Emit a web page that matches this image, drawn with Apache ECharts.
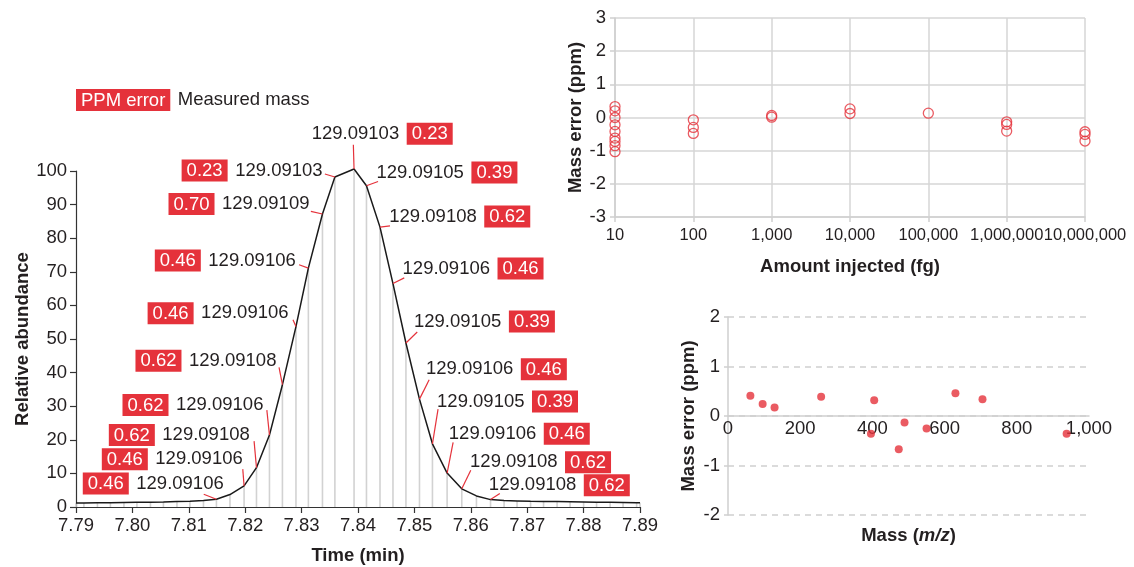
<!DOCTYPE html>
<html><head><meta charset="utf-8">
<script src="https://cdn.jsdelivr.net/npm/echarts/dist/echarts.min.js"></script>
<style>html,body{margin:0;padding:0;background:#fff}#c{width:1134px;height:567px}</style>
</head><body><div id="c"></div>
<script>
// ---------- Left chart: chromatographic peak (scans) ----------
const scanTimes = [7.7900, 7.7914, 7.7938, 7.7961, 7.7985, 7.8008, 7.8032, 7.8055, 7.8079, 7.8102,
  7.8126, 7.8149, 7.8173, 7.8198, 7.8220, 7.8243, 7.8266, 7.8290, 7.8312, 7.8337,
  7.8359, 7.8393, 7.8415, 7.8439, 7.8462, 7.8485, 7.8509, 7.8532, 7.8558, 7.8584,
  7.8610, 7.8635, 7.8659, 7.8682, 7.8706, 7.8729, 7.8753, 7.8776, 7.8800, 7.8823,
  7.8847, 7.8870, 7.8894, 7.8900];
const scanAbundance = [1.2, 1.2, 1.25, 1.3, 1.35, 1.4, 1.45, 1.5, 1.6, 1.7,
  1.9, 2.3, 3.7, 6.3, 11.7, 21.4, 36.4, 53.7, 71.1, 87.2,
  98.2, 100.6, 95.6, 83.3, 66.5, 48.8, 32.1, 18.8, 10.1, 5.4,
  3.3, 2.2, 1.9, 1.8, 1.7, 1.65, 1.6, 1.55, 1.5, 1.45,
  1.4, 1.35, 1.3, 1.3];
// annotated scans
const labelScanIndex = [11, 13, 14, 15, 16, 17, 18, 19, 20, 21, 22, 23, 24, 25, 26, 27, 28, 29, 31];
const labelMass = ['129.09106', '129.09106', '129.09108', '129.09106', '129.09108', '129.09106', '129.09106', '129.09109', '129.09103',
  '129.09103', '129.09105', '129.09108', '129.09106', '129.09105', '129.09106', '129.09105', '129.09106', '129.09108', '129.09108'];
const labelPpm = ['0.46', '0.46', '0.62', '0.62', '0.62', '0.46', '0.46', '0.70', '0.23',
  '0.23', '0.39', '0.62', '0.46', '0.39', '0.46', '0.39', '0.46', '0.62', '0.62'];
const labelSide = ['L', 'L', 'L', 'L', 'L', 'L', 'L', 'L', 'L', 'R', 'R', 'R', 'R', 'R', 'R', 'R', 'R', 'R', 'R'];
// layout of annotation (pixel offsets from the data point) - positions only
const leaderOffsets = [[-12.7, -5], [-1.3, -16.7], [-2.4, -26.6], [-2.6, -25], [-3.4, -17.3], [-3, -6.7], [-9.3, -3.3], [-11.6, -2.7], [-10, -3],
  [-0.7, -24.3], [11.6, -4.3], [10, -1.3], [11.3, -5.7], [11.3, -11], [9.7, -19.3], [5.6, -34.7], [6, -30.6], [9, -18.6], [9.3, -6]];
const textOffsets = [[7.3, -15.7], [-1.3, -26.7], [-6.7, -32.6], [-6, -30], [-6, -24], [-7.4, -13.4], [-12.6, -7.6], [-13, -10], [-12.3, -6.6],
  [-42.3, -35.3], [10, -13.3], [9.3, -10.6], [9.6, -15], [8, -21.6], [6.4, -30], [4.6, -42.3], [1.7, -39.3], [8.3, -26.6], [-1.7, -14.3]];

// ---------- Top-right: mass error vs amount injected ----------
const amountInjected = [10, 10, 10, 10, 10, 10, 10, 10, 10, 100, 100, 100, 1000, 1000, 10000, 10000, 100000,
  1000000, 1000000, 1000000, 10000000, 10000000, 10000000];
const amountError = [0.33, 0.2, 0.0, -0.22, -0.42, -0.62, -0.72, -0.85, -1.03, -0.07, -0.3, -0.48, 0.06, 0.01, 0.26, 0.12, 0.13,
  -0.13, -0.21, -0.41, -0.43, -0.51, -0.71];

// ---------- Bottom-right: mass error vs m/z ----------
const massMz = [62, 96, 129, 258, 396, 405, 473, 489, 550, 630, 705, 938];
const massError = [0.41, 0.24, 0.17, 0.39, -0.36, 0.32, -0.67, -0.13, -0.25, 0.46, 0.34, -0.36];

const RED = '#e5323b';
const TXT = '#231f20';
const FONT = 'Liberation Sans, Arial, sans-serif';
const FS = 18.5;
const commas = v => String(Math.round(v)).replace(/\B(?=(\d{3})+(?!\d))/g, ',');

const axisTitle = {fontFamily: FONT, fontSize: FS, fontWeight: 'bold', color: TXT};
const tickLabel = {fontFamily: FONT, fontSize: FS, color: TXT};

const option = {
  animation: false,
  backgroundColor: '#fff',
  grid: [
    {left: 76, right: 494, top: 171, bottom: 60, outerBoundsMode: 'none', containLabel: false},
    {left: 615, right: 49, top: 18, bottom: 350, outerBoundsMode: 'none', containLabel: false},
    {left: 728, right: 45, top: 317, bottom: 52, outerBoundsMode: 'none', containLabel: false}
  ],
  xAxis: [
    {
      gridIndex: 0, type: 'value', min: 7.79, max: 7.89, interval: 0.01,
      axisLine: {lineStyle: {color: '#333', width: 1.2}},
      axisTick: {length: 6, lineStyle: {color: '#333', width: 1.2}},
      axisLabel: Object.assign({margin: 9, formatter: v => v.toFixed(2)}, tickLabel),
      splitLine: {show: false},
      name: 'Time (min)', nameLocation: 'middle', nameGap: 39, nameTextStyle: axisTitle
    },
    {
      gridIndex: 1, type: 'log', logBase: 10, min: 10, max: 10000000,
      axisLine: {onZero: false, lineStyle: {color: '#cfcfcf', width: 1.5}},
      axisTick: {length: 5, lineStyle: {color: '#cfcfcf', width: 1.5}},
      axisLabel: Object.assign({}, tickLabel, {margin: 10, interval: 0, hideOverlap: false, showMaxLabel: true, showMinLabel: true,
        fontSize: 16.5, formatter: v => commas(v)}),
      splitLine: {show: true, lineStyle: {color: '#d6d6d6', width: 1.5}},
      minorSplitLine: {show: false},
      name: 'Amount injected (fg)', nameLocation: 'middle', nameGap: 40, nameTextStyle: axisTitle
    },
    {
      gridIndex: 2, type: 'value', min: 0, max: 1000, interval: 200, position: 'bottom', offset: 0,
      axisLine: {onZero: false, lineStyle: {color: '#cfcfcf', width: 1.5}},
      axisTick: {show: false},
      axisLabel: Object.assign({margin: 3, formatter: v => commas(v)}, tickLabel),
      splitLine: {show: false},
      name: 'Mass ({i|m/z})', nameLocation: 'middle', nameGap: 110,
      nameTextStyle: Object.assign({rich: {i: {fontFamily: FONT, fontSize: FS, fontWeight: 'bold', fontStyle: 'italic', color: TXT}}}, axisTitle)
    }
  ],
  yAxis: [
    {
      gridIndex: 0, type: 'value', min: 0, max: 100, interval: 10,
      axisLine: {show: true, lineStyle: {color: '#333', width: 1.2}},
      axisTick: {show: true, length: 6, lineStyle: {color: '#333', width: 1.2}},
      axisLabel: Object.assign({margin: 9}, tickLabel),
      splitLine: {show: false},
      name: 'Relative abundance', nameLocation: 'middle', nameGap: 44, nameTextStyle: axisTitle
    },
    {
      gridIndex: 1, type: 'value', min: -3, max: 3, interval: 1,
      axisLine: {show: true, lineStyle: {color: '#cfcfcf', width: 1.5}},
      axisTick: {show: true, length: 5, lineStyle: {color: '#cfcfcf', width: 1.5}},
      axisLabel: Object.assign({margin: 9}, tickLabel),
      splitLine: {show: true, lineStyle: {color: '#d6d6d6', width: 1.5}},
      name: 'Mass error (ppm)', nameLocation: 'middle', nameGap: 30, nameTextStyle: axisTitle
    },
    {
      gridIndex: 2, type: 'value', min: -2, max: 2, interval: 1,
      axisLine: {show: true, lineStyle: {color: '#cfcfcf', width: 1.5}},
      axisTick: {show: true, length: 4, lineStyle: {color: '#cfcfcf', width: 1.5}},
      axisLabel: Object.assign({margin: 8}, tickLabel),
      splitLine: {show: true, lineStyle: {color: '#cfcfcf', width: 1.5, type: [6, 5]}},
      name: 'Mass error (ppm)', nameLocation: 'middle', nameGap: 30, nameTextStyle: axisTitle
    }
  ],
  series: [
    {
      type: 'bar', xAxisIndex: 0, yAxisIndex: 0, barWidth: 1.6, z: 2,
      itemStyle: {color: '#d2d2d2'},
      data: scanTimes.map((t, i) => [t, scanAbundance[i]])
    },
    {
      type: 'line', xAxisIndex: 0, yAxisIndex: 0, z: 3, clip: false,
      symbol: 'none', lineStyle: {color: '#1a1a1a', width: 1.5},
      data: scanTimes.map((t, i) => [t, scanAbundance[i]])
    },
    {
      type: 'scatter', xAxisIndex: 1, yAxisIndex: 1, symbol: 'circle', symbolSize: 10,
      itemStyle: {color: 'rgba(0,0,0,0)', borderColor: RED, borderWidth: 1.3},
      data: amountInjected.map((a, i) => [a, amountError[i]])
    },
    {
      type: 'scatter', xAxisIndex: 2, yAxisIndex: 2, symbol: 'circle', symbolSize: 8,
      itemStyle: {color: RED},
      data: massMz.map((m, i) => [m, massError[i]])
    }
  ]
};

const chart = echarts.init(document.getElementById('c'), null, {renderer: 'canvas'});
chart.setOption(option);

// move the m/z axis up to the zero line of its value axis (library scale)
const zeroPx = chart.convertToPixel({gridIndex: 2}, [0, 0])[1];
const bottomPx = chart.convertToPixel({gridIndex: 2}, [0, -2])[1];
chart.setOption({xAxis: [{}, {}, {offset: zeroPx - bottomPx, nameGap: 110}]});

const rich = {
  b: {fill: '#fff', backgroundColor: RED, padding: [2, 5, 1, 5], fontSize: FS, fontFamily: FONT, lineHeight: 18},
  g: {width: 7.5, fontSize: FS, fontFamily: FONT},
  m: {fill: TXT, fontSize: FS, fontFamily: FONT}
};
const els = [];
labelScanIndex.forEach((si, k) => {
  const p = chart.convertToPixel({gridIndex: 0}, [scanTimes[si], scanAbundance[si]]);
  const lo = leaderOffsets[k], to = textOffsets[k];
  const left = labelSide[k] === 'L';
  els.push({type: 'line', z: 100, shape: {x1: p[0], y1: p[1], x2: p[0] + lo[0], y2: p[1] + lo[1]},
    style: {stroke: RED, lineWidth: 1.2}});
  els.push({type: 'text', z: 100, x: p[0] + to[0], y: p[1] + to[1],
    style: {text: left ? '{b|' + labelPpm[k] + '}{g| }{m|' + labelMass[k] + '}' : '{m|' + labelMass[k] + '}{g| }{b|' + labelPpm[k] + '}',
      align: left ? 'right' : 'left', verticalAlign: 'middle', fontSize: FS, fontFamily: FONT, rich: rich}});
});
// key
const gp = chart.convertToPixel({gridIndex: 0}, [7.79, 100]);
els.push({type: 'text', z: 100, x: gp[0], y: gp[1] - 71,
  style: {text: '{b|PPM error}{g| }{m|Measured mass}', align: 'left', verticalAlign: 'middle', fontSize: FS, fontFamily: FONT, rich: rich}});
chart.setOption({graphic: els});
</script>
</body></html>
